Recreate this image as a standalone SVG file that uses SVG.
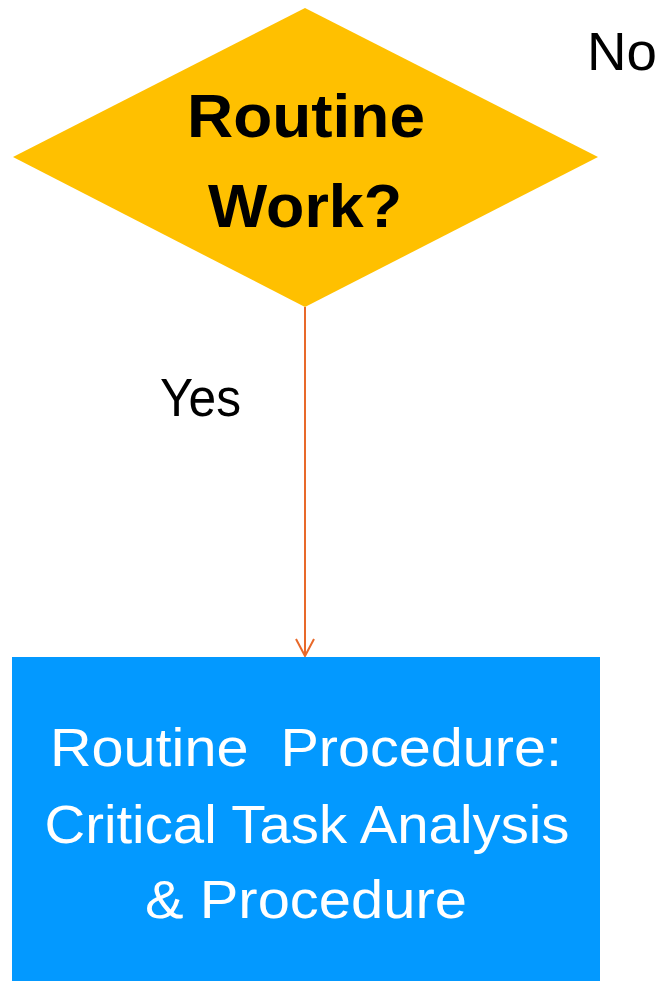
<svg xmlns="http://www.w3.org/2000/svg" width="661" height="981" viewBox="0 0 661 981">
<style>
.lbl{font-family:"Liberation Sans","Open Sans",sans-serif;fill:#000;font-size:54px}
.dtxt{font-family:"Liberation Sans","Open Sans",sans-serif;font-weight:bold;fill:#000;font-size:62px;text-anchor:middle}
.btxt{font-family:"Liberation Sans","Open Sans",sans-serif;fill:#fff;font-size:54px;text-anchor:middle}
</style>
<defs>
<marker id="arr" viewBox="0 0 20 20" refX="18" refY="10" markerWidth="20" markerHeight="20" markerUnits="userSpaceOnUse" orient="auto">
<path d="M1,1 L18,10 L1,19" fill="none" stroke="#E8692A" stroke-width="2"/>
</marker>
</defs>
<rect width="661" height="981" fill="#fff"/>
<g id="connectors">
<line x1="305" y1="307" x2="305" y2="656" stroke="#E8692A" stroke-width="2" marker-end="url(#arr)"/>
</g>
<g id="decision">
<polygon points="305,8 598,157 305,307 13,157" fill="#FFC000"/>
<text class="dtxt" x="306" y="137" textLength="238" lengthAdjust="spacingAndGlyphs">Routine</text>
<text class="dtxt" x="305" y="227" textLength="194" lengthAdjust="spacingAndGlyphs">Work?</text>
</g>
<g id="label-no">
<text class="lbl" x="587" y="70" textLength="70" lengthAdjust="spacingAndGlyphs">No</text>
</g>
<g id="label-yes">
<text class="lbl" x="160" y="416" textLength="81" lengthAdjust="spacingAndGlyphs">Yes</text>
</g>
<g id="procedure">
<rect x="12" y="657" width="588" height="324" fill="#0399FF"/>
<text class="btxt" x="306" y="766" textLength="512" lengthAdjust="spacingAndGlyphs" xml:space="preserve">Routine  Procedure:</text>
<text class="btxt" x="307" y="843" textLength="525" lengthAdjust="spacingAndGlyphs">Critical Task Analysis</text>
<text class="btxt" x="306" y="918" textLength="322" lengthAdjust="spacingAndGlyphs">&amp; Procedure</text>
</g>
</svg>
